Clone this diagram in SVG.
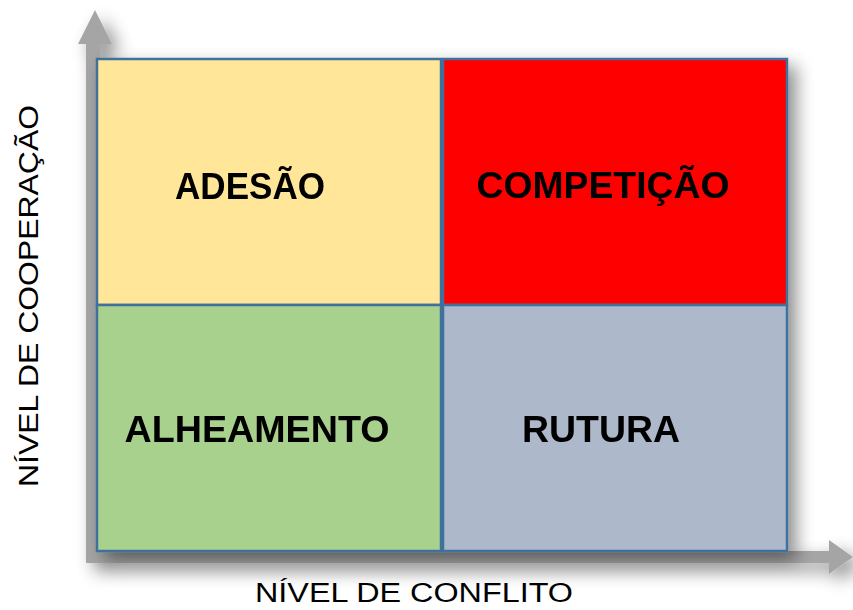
<svg xmlns="http://www.w3.org/2000/svg" width="853" height="610" viewBox="0 0 853 610">
<defs>
<filter id="sh" x="-10%" y="-10%" width="125%" height="125%">
<feGaussianBlur in="SourceAlpha" stdDeviation="9"/>
<feOffset dx="8" dy="8" result="b"/>
<feComponentTransfer in="b" result="s"><feFuncA type="linear" slope="0.45"/></feComponentTransfer>
<feMerge><feMergeNode in="s"/><feMergeNode in="SourceGraphic"/></feMerge>
</filter>
<style>
.cell{stroke:#41719C;stroke-width:2.5}
.lbl{font-family:"Liberation Sans",Arial,sans-serif;font-weight:bold;font-size:36px;fill:#000;text-anchor:middle}
.ax{font-family:"Liberation Sans",Arial,sans-serif;font-size:27px;fill:#000;text-anchor:middle}
.axis{fill:#A5A5A5}
</style>
</defs>
<g id="axes" filter="url(#sh)">
<polygon class="axis" points="86,44 78,44 95,10 112,44 100,44 100,551 829,551 829,540 853,557 829,574 829,563 86,563"/>
</g>
<g id="matrix" filter="url(#sh)">
<g id="adesao"><rect class="cell" x="97" y="59" width="344" height="246" fill="#FFE699"/><text class="lbl" x="250" y="199" textLength="150" lengthAdjust="spacingAndGlyphs">ADESÃO</text></g>
<g id="competicao"><rect class="cell" x="443" y="59" width="344" height="246" fill="#FF0000"/><text class="lbl" x="603" y="198" textLength="253" lengthAdjust="spacingAndGlyphs">COMPETIÇÃO</text></g>
<g id="alheamento"><rect class="cell" x="97" y="305" width="344" height="246" fill="#A9D18E"/><text class="lbl" x="257" y="442" textLength="265" lengthAdjust="spacingAndGlyphs">ALHEAMENTO</text></g>
<g id="rutura"><rect class="cell" x="443" y="305" width="344" height="246" fill="#ADB9CA"/><text class="lbl" x="601" y="442" textLength="158" lengthAdjust="spacingAndGlyphs">RUTURA</text></g>
</g>
<text class="ax" transform="translate(38,296) rotate(-90)" textLength="382" lengthAdjust="spacingAndGlyphs">NÍVEL DE COOPERAÇÃO</text>
<text class="ax" x="414" y="602" textLength="318" lengthAdjust="spacingAndGlyphs">NÍVEL DE CONFLITO</text>
</svg>
